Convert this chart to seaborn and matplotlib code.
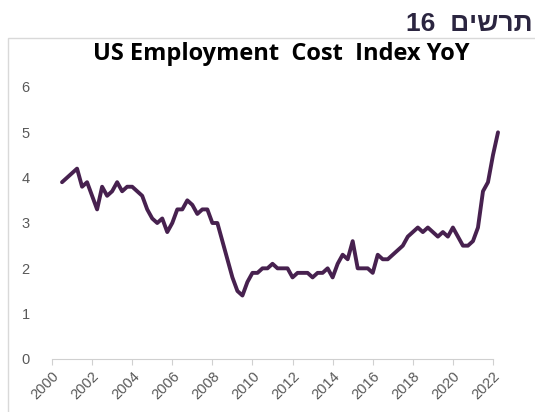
import pandas as pd
import matplotlib.pyplot as plt
import seaborn as sns
from matplotlib.patches import Rectangle

# quarterly ECI YoY (%)
quarters = pd.period_range('2000Q3', '2022Q2', freq='Q')
eci_yoy = [3.9, 4.0, 4.1, 4.2, 3.8, 3.9, 3.6, 3.3, 3.8, 3.6,
           3.7, 3.9, 3.7, 3.8, 3.8, 3.7, 3.6, 3.3, 3.1, 3.0,
           3.1, 2.8, 3.0, 3.3, 3.3, 3.5, 3.4, 3.2, 3.3, 3.3,
           3.0, 3.0, 2.6, 2.2, 1.8, 1.5, 1.4, 1.7, 1.9, 1.9,
           2.0, 2.0, 2.1, 2.0, 2.0, 2.0, 1.8, 1.9, 1.9, 1.9,
           1.8, 1.9, 1.9, 2.0, 1.8, 2.1, 2.3, 2.2, 2.6, 2.0,
           2.0, 2.0, 1.9, 2.3, 2.2, 2.2, 2.3, 2.4, 2.5, 2.7,
           2.8, 2.9, 2.8, 2.9, 2.8, 2.7, 2.8, 2.7, 2.9, 2.7,
           2.5, 2.5, 2.6, 2.9, 3.7, 3.9, 4.5, 5.0]
year_ticks = list(range(2000, 2023, 2))
y_ticks = [0, 1, 2, 3, 4, 5, 6]

df = pd.DataFrame({'year': [q.year + (q.quarter - 1) / 4 for q in quarters],
                   'eci': eci_yoy})

sns.set_style('white')
plt.rcParams['font.family'] = ['Liberation Sans', 'DejaVu Sans']

fig = plt.figure(figsize=(5.35, 4.12), dpi=100)
# light frame around the chart area
fig.patches.append(Rectangle((8 / 535, -0.05), 1.0, 1 - 38 / 412 + 0.05,
                             transform=fig.transFigure, fill=False,
                             edgecolor='#d9d9d9', linewidth=1))

ax = fig.add_axes([52 / 535, 1 - 359 / 412, 441 / 535, 272 / 412])
sns.lineplot(data=df, x='year', y='eci', ax=ax, color='#47214f',
             linewidth=2.8, clip_on=False)

ax.set_xlim(2000, 2022)
ax.set_ylim(0, 6)
ax.set_xticks(year_ticks)
ax.set_xticklabels([str(y) for y in year_ticks], rotation=45, ha='right',
                   rotation_mode='anchor', fontsize=10.5, color='#595959')
ax.set_yticks(y_ticks)
ax.set_yticklabels([str(y) for y in y_ticks], fontsize=10.5, color='#595959')
ax.tick_params(axis='x', length=4, color='#d0d0d0', pad=3, bottom=True)
ax.tick_params(axis='y', length=0, pad=16)
ax.set_xlabel('')
ax.set_ylabel('')
for side in ['top', 'right', 'left']:
    ax.spines[side].set_visible(False)
ax.spines['bottom'].set_color('#d0d0d0')
ax.grid(False)

fig.text(0.525, 1 - 60 / 412, 'US Employment  Cost  Index YoY',
         ha='center', va='baseline', fontsize=17, fontweight='bold',
         family=['Open Sans', 'DejaVu Sans'], color='black')
# Hebrew heading "תרשים 16", given in visual order since matplotlib has no bidi
fig.text(0.995, 1 - 31 / 412, '16  ' + 'תרשים'[::-1], ha='right',
         va='baseline', fontsize=19, fontweight='bold', color='#2b2540')

fig.savefig('out.png', dpi=100)
